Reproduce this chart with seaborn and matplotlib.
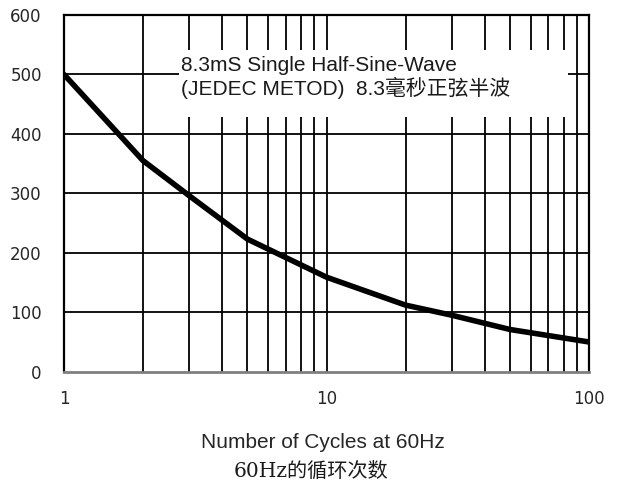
import matplotlib
matplotlib.use("Agg")
import matplotlib.pyplot as plt
import seaborn as sns
import pandas as pd
from matplotlib.patches import Rectangle

cycles = [1, 2, 3, 5, 10, 20, 30, 50, 100]
current = [500, 355, 296, 223, 159, 112, 95, 71, 50]
x_ticks = [1, 10, 100]
y_ticks = [0, 100, 200, 300, 400, 500, 600]
box_line1 = "8.3mS Single Half-Sine-Wave"
box_line2 = "(JEDEC METOD)  8.3毫秒正弦半波"
xlabel_en = "Number of Cycles at 60Hz"
xlabel_cn = "60Hz的循环次数"

sns.set_style("white")
plt.rcParams['font.family'] = ['Liberation Sans', 'Noto Sans CJK SC']

df = pd.DataFrame({"cycles": cycles, "current": current})

fig = plt.figure(figsize=(6.17, 4.86), dpi=100)
ax = fig.add_axes([64/617, 1-371.7/486, (589-64)/617, (371.7-15)/486])

ax.set_xscale("log")
ax.set_xlim(1, 100)
ax.set_ylim(0, 600)

# grid
minor = [m * d for d in (1, 10) for m in range(2, 10)]
for v in minor + [10]:
    ax.axvline(v, color="black", lw=1.3, zorder=1)
for v in y_ticks[1:-1]:
    ax.axhline(v, color="black", lw=1.3, zorder=1)

# white text box
ax.add_patch(Rectangle((2.75, 428), 83 - 2.75, 541 - 428, facecolor="white",
                       edgecolor="none", zorder=2))
ax.text(2.8, 506, box_line1, fontsize=15, va="baseline", ha="left", zorder=3,
        color="#1a1a1a")
ax.text(2.8, 465.5, box_line2, fontsize=15, va="baseline", ha="left", zorder=3,
        color="#1a1a1a")

sns.lineplot(data=df, x="cycles", y="current", ax=ax, color="black", lw=4,
             zorder=4, solid_joinstyle="round")

ax.set_xticks(x_ticks)
ax.set_xticklabels([str(t) for t in x_ticks])
ax.xaxis.set_minor_locator(matplotlib.ticker.NullLocator())
ax.set_yticks(y_ticks)
ax.tick_params(axis="x", length=0, pad=13, labelsize=12)
ax.tick_params(axis="y", length=0, pad=16, labelsize=12)
for lab in ax.get_xticklabels() + ax.get_yticklabels():
    lab.set_family(['DejaVu Sans'])
ax.set_xlabel("")
ax.set_ylabel("")

for s in ("left", "top", "right"):
    ax.spines[s].set_color("black")
    ax.spines[s].set_linewidth(1.6)
ax.spines["bottom"].set_color("#808080")
ax.spines["bottom"].set_linewidth(2)

fig.text(323/617, 1-448.3/486, xlabel_en, ha="center", va="baseline", fontsize=15)
fig.text(311/617, 1-476.7/486, xlabel_cn, ha="center", va="baseline", fontsize=14.5,
         family=['DejaVu Serif', 'Noto Sans CJK SC'], color="#1a1a1a")

fig.savefig("out.png", dpi=100, facecolor="white")
